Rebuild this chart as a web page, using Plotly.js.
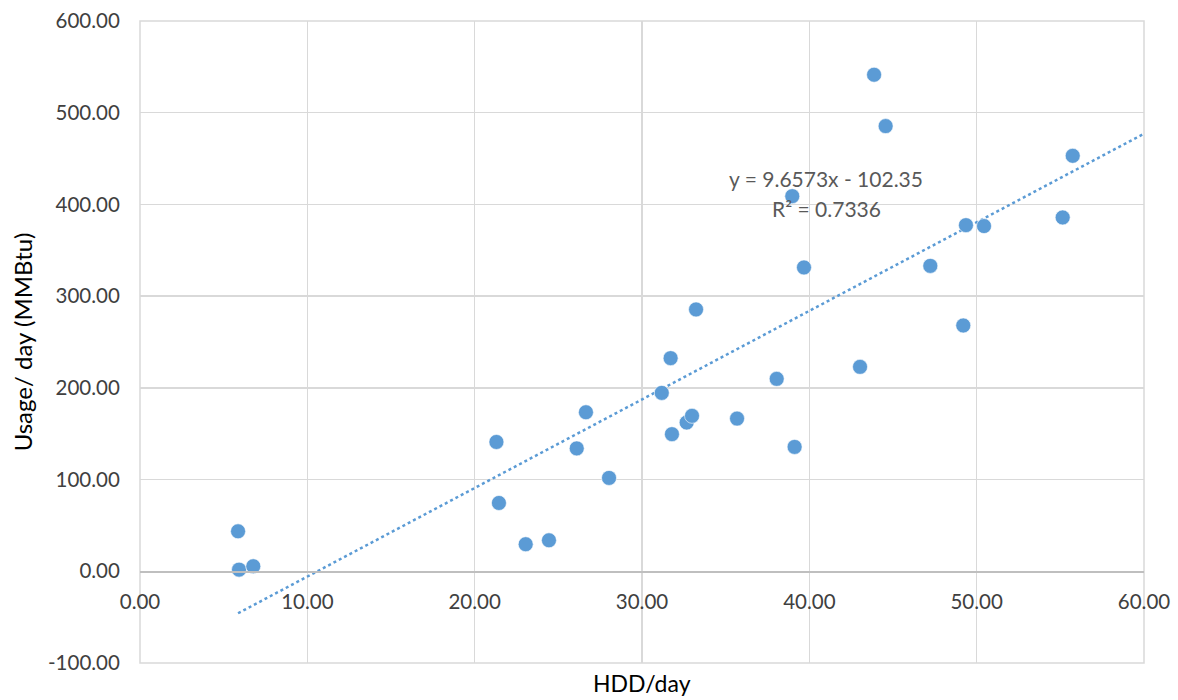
<!DOCTYPE html>
<html>
<head>
<meta charset="utf-8">
<script src="https://cdn.plot.ly/plotly-3.0.1.min.js"></script>
<style>html,body{margin:0;padding:0;background:#fff}#chart{width:1178px;height:700px}</style>
</head>
<body>
<div id="chart"></div>
<script>
// Data
const hddPerDay = [5.86, 5.92, 6.77, 21.3, 21.45, 23.05, 24.44, 26.1, 26.65, 28.03,
  31.18, 31.71, 31.79, 32.67, 32.99, 33.23, 35.68, 38.05, 39.12, 38.98,
  39.68, 43.87, 44.56, 43.03, 47.23, 49.2, 49.36, 50.44, 55.14, 55.74];
const usagePerDay = [43.6, 1.8, 5.5, 141, 74.5, 29.5, 33.8, 134, 173.4, 101.8,
  194.5, 232.4, 149.5, 162.2, 169.5, 285.5, 166.5, 209.8, 135.6, 409,
  331.3, 541.4, 485.4, 222.9, 333, 268, 377.4, 376.4, 385.8, 453];
const trendSlope = 9.6573;
const trendIntercept = -102.35;
const trendR2 = 0.7336;
const xTickVals = [0, 10, 20, 30, 40, 50, 60];
const yTickVals = [-100, 0, 100, 200, 300, 400, 500, 600];

const xMin = Math.min(...hddPerDay);
const xMaxTrend = 60;
const trendX = [xMin, xMaxTrend];
const trendY = trendX.map(x => trendSlope * x + trendIntercept);

const blue = '#5B9BD5';
const fontFam = 'Lato, Open Sans, sans-serif';

const data = [
  {
    x: trendX, y: trendY, type: 'scatter', mode: 'lines',
    line: {color: blue, width: 2.5, dash: 'dot'}, hoverinfo: 'skip'
  },
  {
    x: hddPerDay, y: usagePerDay, type: 'scatter', mode: 'markers',
    marker: {color: blue, size: 15, line: {color: 'rgba(255,255,255,0.6)', width: 1}}
  }
];

const layout = {
  width: 1178, height: 700,
  margin: {l: 140, r: 34, t: 21, b: 37},
  paper_bgcolor: '#fff', plot_bgcolor: '#fff',
  showlegend: false,
  font: {family: fontFam, color: '#404040', size: 21},
  xaxis: {
    range: [0, 60], tickvals: xTickVals,
    ticktext: xTickVals.map(v => v.toFixed(2)),
    showgrid: true, gridcolor: '#D9D9D9', gridwidth: 1.5,
    zeroline: false,
    anchor: 'free', position: 100 / 700,
    showline: true, linecolor: '#BFBFBF', linewidth: 1.5,
    ticks: 'outside', ticklen: 12, tickcolor: 'rgba(0,0,0,0)',
    tickfont: {size: 20.5, color: '#404040'}
  },
  yaxis: {
    range: [-100, 600], tickvals: yTickVals,
    ticktext: yTickVals.map(v => v.toFixed(2)),
    showgrid: true, gridcolor: '#D9D9D9', gridwidth: 1.5,
    zeroline: false,
    ticks: 'outside', ticklen: 15, tickcolor: 'rgba(0,0,0,0)',
    tickfont: {size: 20.5, color: '#404040'},
    title: {text: 'Usage/ day (MMBtu)', font: {size: 24, color: '#000'}, standoff: 8}
  },
  shapes: [
    {type: 'rect', xref: 'paper', yref: 'paper', x0: 0, x1: 1, y0: 0, y1: 1,
     line: {color: '#D9D9D9', width: 1.5}, layer: 'below'}
  ],
  annotations: [
    {xref: 'paper', yref: 'paper', x: 0.5, y: 0, yshift: -36, yanchor: 'bottom',
     text: 'HDD/day', showarrow: false, font: {size: 23, color: '#000'}},
    {xref: 'x', yref: 'y', x: 41, y: 428, text: 'y = 9.6573x - 102.35',
     showarrow: false, font: {size: 21, color: '#595959'}},
    {xref: 'x', yref: 'y', x: 41, y: 396, text: 'R² = ' + trendR2,
     showarrow: false, font: {size: 21, color: '#595959'}}
  ]
};

Plotly.newPlot('chart', data, layout, {displayModeBar: false, staticPlot: true});
</script>
</body>
</html>
